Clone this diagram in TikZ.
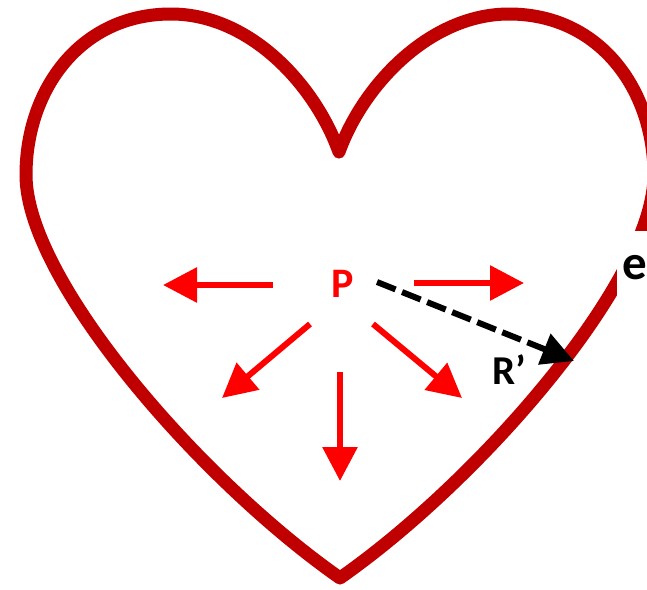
\documentclass[tikz,border=0pt]{standalone}
\usepackage{fontspec}
\setmainfont{Carlito}
\usetikzlibrary{arrows.meta}
\definecolor{heartred}{HTML}{C00000}
\definecolor{arrred}{HTML}{FF0000}
\begin{document}
\begin{tikzpicture}[x=1pt,y=-1pt,
  heart/.style={draw=heartred,line width=13pt,line join=round},
  redarrow/.style={draw=arrred,line width=6pt,-{Triangle[length=34pt,width=34pt]}},
  dasharrow/.style={draw=black,line width=6pt,dash pattern=on 20pt off 7pt,-{Triangle[length=32pt,width=32pt]}},
  lbl/.style={inner sep=0pt}]
\useasboundingbox (0,0) rectangle (647,589);
\fill[white] (0,0) rectangle (647,589);
\draw[heart] (339,152) .. controls (315,85) and (250,14) .. (171,14)
  .. controls (80,14) and (26,90) .. (26,175)
  .. controls (26,280) and (200,480) .. (340,578)
  .. controls (480,480) and (654,280) .. (654,175)
  .. controls (654,90) and (600,14) .. (509,14)
  .. controls (430,14) and (363,85) .. cycle;
\node[lbl,fill=white,anchor=west,minimum height=75pt,inner xsep=5pt,font=\bfseries\fontsize{49}{49}\selectfont] (e) at (617,268) {e};
\node[lbl,text=arrred,font=\bfseries\fontsize{42}{42}\selectfont] (P) at (343,284) {P};
\coordinate (l0) at (273,285); \coordinate (l1) at (163,285);
\coordinate (r0) at (414,283); \coordinate (r1) at (524,283);
\coordinate (dl0) at (310,324); \coordinate (dl1) at (222,398);
\coordinate (d0) at (340,372); \coordinate (d1) at (340,481);
\coordinate (dr0) at (373,324); \coordinate (dr1) at (462,398);
\draw[redarrow] (l0) -- (l1);
\draw[redarrow] (r0) -- (r1);
\draw[redarrow] (dl0) -- (dl1);
\draw[redarrow] (d0) -- (d1);
\draw[redarrow] (dr0) -- (dr1);
\coordinate (s0) at (377,282); \coordinate (s1) at (574,361);
\draw[dasharrow] (s0) -- (s1);
\node[lbl,font=\bfseries\fontsize{41}{41}\selectfont] (R) at (509,370) {R’};
\end{tikzpicture}
\end{document}
